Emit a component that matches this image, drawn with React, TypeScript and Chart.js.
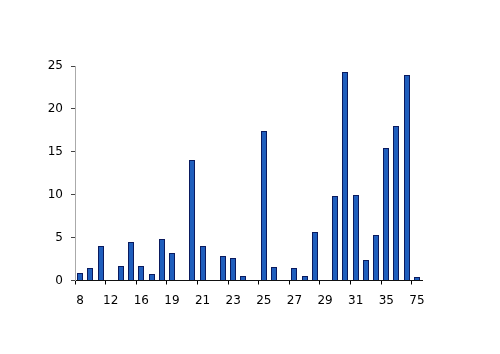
import React, { useEffect, useRef } from "react";
import { Chart, registerables } from "chart.js";

Chart.register(...registerables);

const categories = ['8','10','11','12','14','15','16','17','18','19','19.5','20','21','21.5','22','23','23.5','24','25','25.5','26','27','27.5','28','29','29.5','30','31','32','33','35','40','50','75'];
const values = [0.9,1.5,4.0,0,1.7,4.5,1.65,0.7,4.85,3.25,0,14.1,4.0,0,2.8,2.6,0.55,0,17.45,1.6,0,1.4,0.5,5.7,0,9.85,24.3,10.0,2.35,5.25,15.4,18.0,24.0,0.45];
const yTicks = [0, 5, 10, 15, 20, 25];

const snapBars = {
  id: "snapBars",
  beforeDatasetsDraw(chart: any) {
    chart.getDatasetMeta(0).data.forEach((el: any) => {
      el.x = Math.round(el.x);
      el.y = Math.round(el.y);
      el.base = Math.round(el.base);
    });
  },
};

export default function App() {
  const ref = useRef<HTMLCanvasElement | null>(null);
  useEffect(() => {
    if (!ref.current) return;
    const font = { family: "'DejaVu Sans', Verdana, sans-serif", size: 12 };
    const chart = new Chart(ref.current, {
      type: "bar",
      data: {
        labels: categories,
        datasets: [
          {
            data: values,
            backgroundColor: "#1f5ebd",
            borderColor: "#0a1a5e",
            borderWidth: 1,
            barThickness: 6,
            inflateAmount: 0,
          },
        ],
      },
      plugins: [snapBars],
      options: {
        animation: false,
        responsive: true,
        maintainAspectRatio: false,
        layout: { padding: { left: 0, right: 78, top: 66, bottom: 0 } },
        plugins: { legend: { display: false }, tooltip: { enabled: false } },
        scales: {
          x: {
            offset: true,
            afterFit: (s: any) => { s.height = 73.5; },
            grid: {
              offset: true,
              drawOnChartArea: false,
              drawTicks: true,
              tickLength: 4,
              tickWidth: 1,
              tickColor: (ctx: any) => (ctx.index % 3 === 0 && ctx.index < categories.length ? "#000" : "rgba(0,0,0,0)"),
            },
            border: { display: true, color: "#111", width: 1 },
            ticks: {
              autoSkip: false,
              maxRotation: 0,
              minRotation: 0,
              padding: 9,
              color: "#000",
              font,
              callback: (_v: any, i: number) => (i % 3 === 0 ? categories[i] : ""),
            },
          },
          y: {
            min: 0,
            max: 25,
            afterFit: (s: any) => { s.width = 75; },
            afterBuildTicks: (s: any) => { s.ticks = yTicks.map((v) => ({ value: v })); },
            grid: {
              drawOnChartArea: false,
              drawTicks: true,
              tickLength: 4,
              tickColor: "#444",
            },
            border: { display: true, color: "#aaa", width: 1 },
            ticks: {
              padding: 8,
              color: "#000",
              font,
            },
          },
        },
      },
    });
    return () => chart.destroy();
  }, []);
  return (
    <div style={{ position: "fixed", left: 0, top: 0, width: 500, height: 354, background: "#fff" }}>
      <canvas ref={ref} />
    </div>
  );
}
